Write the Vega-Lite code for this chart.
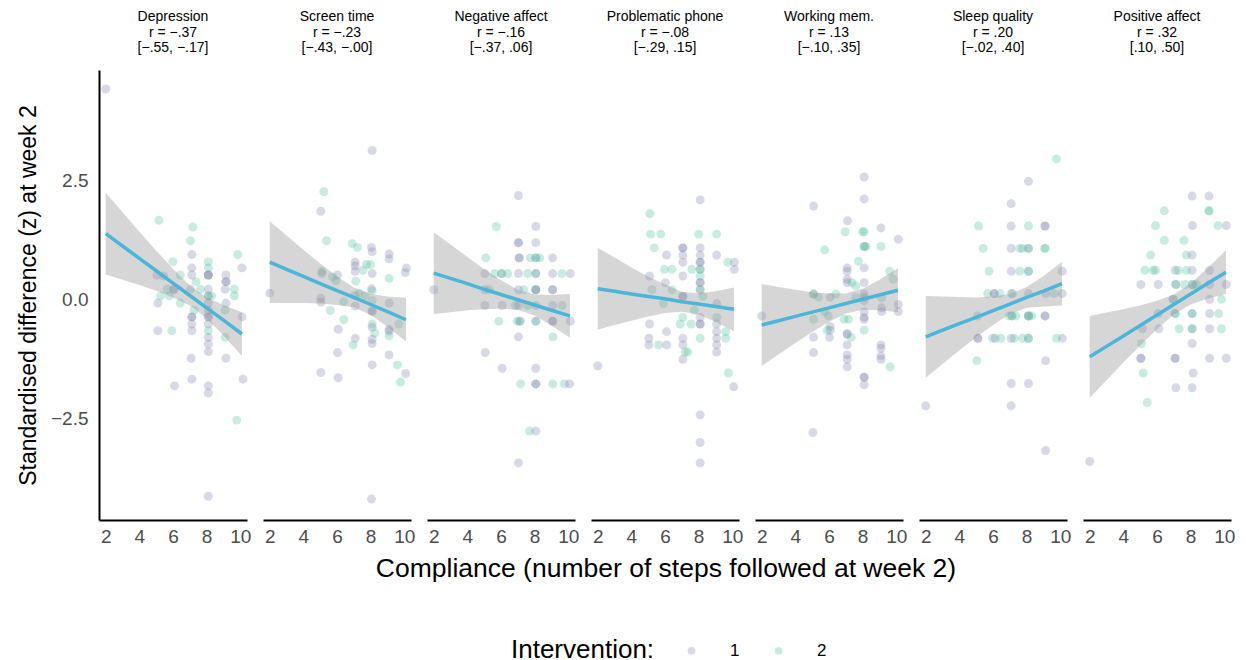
{
"$schema": "https://vega.github.io/schema/vega-lite/v6.json",
"background": "white",
"padding": {"left": 17, "top": 10, "right": 2, "bottom": 5},
"bounds": "flush",
"data": {"values": [
{"o":"Depression","x":2.0,"y":4.43,"g":"1"},{"o":"Depression","x":5.16,"y":1.67,"g":"2"},{"o":"Depression","x":7.18,"y":1.53,"g":"2"},{"o":"Depression","x":7.04,"y":1.24,"g":"2"},{"o":"Depression","x":7.12,"y":0.95,"g":"1"},{"o":"Depression","x":9.85,"y":0.95,"g":"2"},{"o":"Depression","x":5.99,"y":0.8,"g":"2"},{"o":"Depression","x":8.1,"y":0.8,"g":"2"},{"o":"Depression","x":7.12,"y":0.67,"g":"1"},{"o":"Depression","x":8.1,"y":0.67,"g":"2"},{"o":"Depression","x":10.1,"y":0.67,"g":"1"},{"o":"Depression","x":5.04,"y":0.52,"g":"1"},{"o":"Depression","x":5.45,"y":0.5,"g":"1"},{"o":"Depression","x":6.43,"y":0.52,"g":"2"},{"o":"Depression","x":8.1,"y":0.52,"g":"1"},{"o":"Depression","x":8.1,"y":0.52,"g":"1"},{"o":"Depression","x":8.1,"y":0.52,"g":"1"},{"o":"Depression","x":9.15,"y":0.52,"g":"1"},{"o":"Depression","x":7.12,"y":0.52,"g":"1"},{"o":"Depression","x":7.37,"y":0.38,"g":"2"},{"o":"Depression","x":9.15,"y":0.38,"g":"1"},{"o":"Depression","x":9.15,"y":0.38,"g":"1"},{"o":"Depression","x":8.1,"y":0.22,"g":"1"},{"o":"Depression","x":6.05,"y":0.22,"g":"1"},{"o":"Depression","x":6.05,"y":0.22,"g":"1"},{"o":"Depression","x":5.66,"y":0.22,"g":"2"},{"o":"Depression","x":7.04,"y":0.22,"g":"1"},{"o":"Depression","x":7.63,"y":0.22,"g":"2"},{"o":"Depression","x":9.65,"y":0.22,"g":"2"},{"o":"Depression","x":9.1,"y":0.22,"g":"1"},{"o":"Depression","x":5.26,"y":0.08,"g":"2"},{"o":"Depression","x":5.79,"y":0.08,"g":"2"},{"o":"Depression","x":8.1,"y":0.08,"g":"1"},{"o":"Depression","x":8.1,"y":0.08,"g":"2"},{"o":"Depression","x":8.3,"y":0.08,"g":"2"},{"o":"Depression","x":9.65,"y":0.08,"g":"2"},{"o":"Depression","x":5.1,"y":-0.07,"g":"1"},{"o":"Depression","x":6.43,"y":-0.07,"g":"2"},{"o":"Depression","x":8.1,"y":-0.07,"g":"1"},{"o":"Depression","x":9.15,"y":-0.07,"g":"1"},{"o":"Depression","x":7.25,"y":-0.22,"g":"2"},{"o":"Depression","x":8.1,"y":-0.22,"g":"1"},{"o":"Depression","x":9.1,"y":-0.22,"g":"2"},{"o":"Depression","x":7.12,"y":-0.36,"g":"1"},{"o":"Depression","x":7.12,"y":-0.36,"g":"1"},{"o":"Depression","x":8.1,"y":-0.36,"g":"1"},{"o":"Depression","x":8.1,"y":-0.36,"g":"1"},{"o":"Depression","x":10.1,"y":-0.36,"g":"1"},{"o":"Depression","x":7.12,"y":-0.51,"g":"1"},{"o":"Depression","x":8.1,"y":-0.51,"g":"1"},{"o":"Depression","x":5.1,"y":-0.65,"g":"1"},{"o":"Depression","x":5.93,"y":-0.65,"g":"2"},{"o":"Depression","x":7.12,"y":-0.65,"g":"1"},{"o":"Depression","x":8.1,"y":-0.65,"g":"2"},{"o":"Depression","x":8.1,"y":-0.79,"g":"1"},{"o":"Depression","x":9.1,"y":-0.79,"g":"2"},{"o":"Depression","x":8.1,"y":-0.93,"g":"1"},{"o":"Depression","x":8.1,"y":-1.09,"g":"1"},{"o":"Depression","x":7.08,"y":-1.23,"g":"1"},{"o":"Depression","x":9.15,"y":-1.23,"g":"1"},{"o":"Depression","x":7.12,"y":-1.67,"g":"1"},{"o":"Depression","x":10.16,"y":-1.67,"g":"1"},{"o":"Depression","x":6.09,"y":-1.81,"g":"1"},{"o":"Depression","x":8.1,"y":-1.81,"g":"1"},{"o":"Depression","x":8.1,"y":-1.96,"g":"1"},{"o":"Depression","x":9.79,"y":-2.53,"g":"2"},{"o":"Depression","x":8.1,"y":-4.13,"g":"1"},

{"o":"Screen time","x":2.0,"y":0.14,"g":"1"},{"o":"Screen time","x":8.09,"y":3.14,"g":"1"},{"o":"Screen time","x":5.22,"y":2.27,"g":"2"},{"o":"Screen time","x":5.04,"y":1.86,"g":"1"},{"o":"Screen time","x":5.38,"y":1.24,"g":"2"},{"o":"Screen time","x":6.9,"y":1.18,"g":"2"},{"o":"Screen time","x":7.22,"y":1.1,"g":"2"},{"o":"Screen time","x":8.05,"y":1.1,"g":"1"},{"o":"Screen time","x":8.09,"y":1.01,"g":"1"},{"o":"Screen time","x":9.1,"y":0.96,"g":"1"},{"o":"Screen time","x":9.1,"y":0.86,"g":"1"},{"o":"Screen time","x":7.08,"y":0.79,"g":"1"},{"o":"Screen time","x":7.08,"y":0.71,"g":"1"},{"o":"Screen time","x":7.75,"y":0.74,"g":"2"},{"o":"Screen time","x":7.99,"y":0.74,"g":"2"},{"o":"Screen time","x":7.08,"y":0.6,"g":"1"},{"o":"Screen time","x":7.55,"y":0.62,"g":"2"},{"o":"Screen time","x":10.12,"y":0.67,"g":"1"},{"o":"Screen time","x":10.06,"y":0.57,"g":"1"},{"o":"Screen time","x":8.09,"y":0.55,"g":"1"},{"o":"Screen time","x":5.1,"y":0.6,"g":"2"},{"o":"Screen time","x":5.1,"y":0.55,"g":"1"},{"o":"Screen time","x":6.03,"y":0.52,"g":"1"},{"o":"Screen time","x":5.74,"y":0.48,"g":"2"},{"o":"Screen time","x":5.93,"y":0.4,"g":"2"},{"o":"Screen time","x":9.1,"y":0.45,"g":"2"},{"o":"Screen time","x":7.12,"y":0.39,"g":"2"},{"o":"Screen time","x":8.05,"y":0.23,"g":"1"},{"o":"Screen time","x":8.09,"y":0.19,"g":"2"},{"o":"Screen time","x":7.08,"y":0.09,"g":"1"},{"o":"Screen time","x":7.32,"y":0.14,"g":"2"},{"o":"Screen time","x":7.67,"y":0.08,"g":"2"},{"o":"Screen time","x":5.04,"y":0.03,"g":"1"},{"o":"Screen time","x":5.04,"y":-0.05,"g":"1"},{"o":"Screen time","x":6.4,"y":-0.04,"g":"2"},{"o":"Screen time","x":8.09,"y":-0.02,"g":"2"},{"o":"Screen time","x":9.1,"y":-0.07,"g":"1"},{"o":"Screen time","x":7.08,"y":-0.13,"g":"1"},{"o":"Screen time","x":5.6,"y":-0.22,"g":"2"},{"o":"Screen time","x":8.09,"y":-0.23,"g":"1"},{"o":"Screen time","x":8.09,"y":-0.25,"g":"1"},{"o":"Screen time","x":6.4,"y":-0.42,"g":"2"},{"o":"Screen time","x":6.07,"y":-0.62,"g":"1"},{"o":"Screen time","x":8.09,"y":-0.51,"g":"2"},{"o":"Screen time","x":8.09,"y":-0.58,"g":"1"},{"o":"Screen time","x":8.25,"y":-0.7,"g":"2"},{"o":"Screen time","x":9.1,"y":-0.62,"g":"1"},{"o":"Screen time","x":9.1,"y":-0.66,"g":"1"},{"o":"Screen time","x":9.1,"y":-0.76,"g":"2"},{"o":"Screen time","x":9.67,"y":-0.51,"g":"2"},{"o":"Screen time","x":7.08,"y":-0.81,"g":"1"},{"o":"Screen time","x":6.96,"y":-0.95,"g":"2"},{"o":"Screen time","x":8.09,"y":-0.83,"g":"1"},{"o":"Screen time","x":8.09,"y":-0.92,"g":"1"},{"o":"Screen time","x":6.03,"y":-1.11,"g":"1"},{"o":"Screen time","x":9.1,"y":-1.16,"g":"1"},{"o":"Screen time","x":8.09,"y":-1.37,"g":"1"},{"o":"Screen time","x":9.59,"y":-1.37,"g":"2"},{"o":"Screen time","x":5.04,"y":-1.53,"g":"1"},{"o":"Screen time","x":6.07,"y":-1.64,"g":"1"},{"o":"Screen time","x":10.08,"y":-1.55,"g":"1"},{"o":"Screen time","x":9.77,"y":-1.73,"g":"2"},{"o":"Screen time","x":8.05,"y":-4.19,"g":"1"},

{"o":"Negative affect","x":2.0,"y":0.21,"g":"1"},{"o":"Negative affect","x":7.04,"y":2.19,"g":"1"},{"o":"Negative affect","x":5.72,"y":1.54,"g":"2"},{"o":"Negative affect","x":8.07,"y":1.54,"g":"1"},{"o":"Negative affect","x":7.04,"y":1.2,"g":"1"},{"o":"Negative affect","x":7.04,"y":1.2,"g":"1"},{"o":"Negative affect","x":8.07,"y":1.2,"g":"1"},{"o":"Negative affect","x":5.1,"y":0.88,"g":"2"},{"o":"Negative affect","x":7.08,"y":0.88,"g":"1"},{"o":"Negative affect","x":7.08,"y":0.88,"g":"1"},{"o":"Negative affect","x":7.75,"y":0.88,"g":"2"},{"o":"Negative affect","x":8.07,"y":0.88,"g":"1"},{"o":"Negative affect","x":8.07,"y":0.88,"g":"2"},{"o":"Negative affect","x":8.3,"y":0.88,"g":"2"},{"o":"Negative affect","x":9.07,"y":0.88,"g":"1"},{"o":"Negative affect","x":5.04,"y":0.55,"g":"1"},{"o":"Negative affect","x":5.62,"y":0.55,"g":"2"},{"o":"Negative affect","x":6.03,"y":0.55,"g":"1"},{"o":"Negative affect","x":6.03,"y":0.55,"g":"2"},{"o":"Negative affect","x":6.4,"y":0.55,"g":"2"},{"o":"Negative affect","x":7.04,"y":0.55,"g":"1"},{"o":"Negative affect","x":7.59,"y":0.55,"g":"2"},{"o":"Negative affect","x":8.07,"y":0.55,"g":"2"},{"o":"Negative affect","x":8.07,"y":0.55,"g":"1"},{"o":"Negative affect","x":9.07,"y":0.55,"g":"1"},{"o":"Negative affect","x":9.63,"y":0.55,"g":"2"},{"o":"Negative affect","x":10.12,"y":0.55,"g":"1"},{"o":"Negative affect","x":5.04,"y":0.21,"g":"1"},{"o":"Negative affect","x":5.3,"y":0.21,"g":"2"},{"o":"Negative affect","x":7.04,"y":0.21,"g":"1"},{"o":"Negative affect","x":7.36,"y":0.21,"g":"2"},{"o":"Negative affect","x":8.07,"y":0.21,"g":"1"},{"o":"Negative affect","x":8.07,"y":0.21,"g":"2"},{"o":"Negative affect","x":8.07,"y":0.21,"g":"1"},{"o":"Negative affect","x":9.07,"y":0.21,"g":"1"},{"o":"Negative affect","x":9.07,"y":0.21,"g":"1"},{"o":"Negative affect","x":5.04,"y":-0.12,"g":"1"},{"o":"Negative affect","x":6.07,"y":-0.12,"g":"1"},{"o":"Negative affect","x":6.86,"y":-0.12,"g":"2"},{"o":"Negative affect","x":7.04,"y":-0.12,"g":"1"},{"o":"Negative affect","x":7.59,"y":-0.12,"g":"2"},{"o":"Negative affect","x":8.07,"y":-0.12,"g":"1"},{"o":"Negative affect","x":9.07,"y":-0.12,"g":"1"},{"o":"Negative affect","x":9.63,"y":-0.12,"g":"2"},{"o":"Negative affect","x":5.87,"y":-0.45,"g":"2"},{"o":"Negative affect","x":6.96,"y":-0.45,"g":"2"},{"o":"Negative affect","x":7.16,"y":-0.45,"g":"2"},{"o":"Negative affect","x":7.1,"y":-0.45,"g":"1"},{"o":"Negative affect","x":8.07,"y":-0.45,"g":"1"},{"o":"Negative affect","x":8.07,"y":-0.45,"g":"2"},{"o":"Negative affect","x":9.07,"y":-0.45,"g":"1"},{"o":"Negative affect","x":9.07,"y":-0.45,"g":"1"},{"o":"Negative affect","x":10.12,"y":-0.45,"g":"1"},{"o":"Negative affect","x":7.04,"y":-0.78,"g":"1"},{"o":"Negative affect","x":9.09,"y":-0.78,"g":"2"},{"o":"Negative affect","x":5.06,"y":-1.11,"g":"1"},{"o":"Negative affect","x":6.07,"y":-1.44,"g":"1"},{"o":"Negative affect","x":8.07,"y":-1.44,"g":"1"},{"o":"Negative affect","x":7.16,"y":-1.77,"g":"2"},{"o":"Negative affect","x":8.07,"y":-1.77,"g":"1"},{"o":"Negative affect","x":8.07,"y":-1.77,"g":"1"},{"o":"Negative affect","x":9.07,"y":-1.77,"g":"2"},{"o":"Negative affect","x":9.77,"y":-1.77,"g":"2"},{"o":"Negative affect","x":10.08,"y":-1.77,"g":"1"},{"o":"Negative affect","x":7.69,"y":-2.76,"g":"2"},{"o":"Negative affect","x":8.07,"y":-2.76,"g":"1"},{"o":"Negative affect","x":7.04,"y":-3.43,"g":"1"},

{"o":"Problematic phone","x":2.0,"y":-1.39,"g":"1"},{"o":"Problematic phone","x":8.09,"y":2.1,"g":"1"},{"o":"Problematic phone","x":5.1,"y":1.81,"g":"2"},{"o":"Problematic phone","x":5.14,"y":1.38,"g":"2"},{"o":"Problematic phone","x":5.75,"y":1.38,"g":"2"},{"o":"Problematic phone","x":8.0,"y":1.38,"g":"2"},{"o":"Problematic phone","x":9.07,"y":1.38,"g":"2"},{"o":"Problematic phone","x":5.36,"y":1.09,"g":"2"},{"o":"Problematic phone","x":7.06,"y":1.09,"g":"1"},{"o":"Problematic phone","x":7.06,"y":1.09,"g":"1"},{"o":"Problematic phone","x":8.09,"y":1.09,"g":"1"},{"o":"Problematic phone","x":6.09,"y":0.94,"g":"1"},{"o":"Problematic phone","x":7.06,"y":0.94,"g":"1"},{"o":"Problematic phone","x":8.09,"y":0.94,"g":"1"},{"o":"Problematic phone","x":9.07,"y":0.94,"g":"1"},{"o":"Problematic phone","x":7.06,"y":0.79,"g":"1"},{"o":"Problematic phone","x":8.09,"y":0.79,"g":"1"},{"o":"Problematic phone","x":8.09,"y":0.79,"g":"1"},{"o":"Problematic phone","x":9.73,"y":0.79,"g":"2"},{"o":"Problematic phone","x":10.12,"y":0.79,"g":"1"},{"o":"Problematic phone","x":5.97,"y":0.64,"g":"2"},{"o":"Problematic phone","x":6.41,"y":0.64,"g":"2"},{"o":"Problematic phone","x":7.59,"y":0.64,"g":"2"},{"o":"Problematic phone","x":8.09,"y":0.64,"g":"1"},{"o":"Problematic phone","x":8.09,"y":0.64,"g":"2"},{"o":"Problematic phone","x":10.12,"y":0.64,"g":"1"},{"o":"Problematic phone","x":5.08,"y":0.5,"g":"1"},{"o":"Problematic phone","x":7.06,"y":0.5,"g":"1"},{"o":"Problematic phone","x":8.09,"y":0.5,"g":"2"},{"o":"Problematic phone","x":6.03,"y":0.36,"g":"1"},{"o":"Problematic phone","x":8.09,"y":0.36,"g":"1"},{"o":"Problematic phone","x":8.09,"y":0.36,"g":"1"},{"o":"Problematic phone","x":5.22,"y":0.21,"g":"2"},{"o":"Problematic phone","x":6.41,"y":0.21,"g":"2"},{"o":"Problematic phone","x":8.09,"y":0.21,"g":"1"},{"o":"Problematic phone","x":8.09,"y":0.21,"g":"2"},{"o":"Problematic phone","x":7.06,"y":0.07,"g":"1"},{"o":"Problematic phone","x":7.06,"y":0.07,"g":"1"},{"o":"Problematic phone","x":8.25,"y":0.07,"g":"2"},{"o":"Problematic phone","x":5.9,"y":-0.08,"g":"2"},{"o":"Problematic phone","x":9.07,"y":-0.08,"g":"1"},{"o":"Problematic phone","x":7.75,"y":-0.22,"g":"2"},{"o":"Problematic phone","x":7.06,"y":-0.37,"g":"2"},{"o":"Problematic phone","x":8.09,"y":-0.37,"g":"1"},{"o":"Problematic phone","x":9.07,"y":-0.37,"g":"2"},{"o":"Problematic phone","x":5.08,"y":-0.51,"g":"1"},{"o":"Problematic phone","x":6.9,"y":-0.51,"g":"2"},{"o":"Problematic phone","x":7.55,"y":-0.51,"g":"2"},{"o":"Problematic phone","x":8.09,"y":-0.51,"g":"1"},{"o":"Problematic phone","x":8.09,"y":-0.51,"g":"1"},{"o":"Problematic phone","x":9.07,"y":-0.51,"g":"1"},{"o":"Problematic phone","x":6.09,"y":-0.67,"g":"1"},{"o":"Problematic phone","x":9.07,"y":-0.67,"g":"1"},{"o":"Problematic phone","x":9.61,"y":-0.67,"g":"2"},{"o":"Problematic phone","x":5.04,"y":-0.81,"g":"1"},{"o":"Problematic phone","x":7.06,"y":-0.81,"g":"1"},{"o":"Problematic phone","x":8.09,"y":-0.81,"g":"2"},{"o":"Problematic phone","x":9.07,"y":-0.81,"g":"1"},{"o":"Problematic phone","x":9.61,"y":-0.81,"g":"2"},{"o":"Problematic phone","x":5.04,"y":-0.95,"g":"1"},{"o":"Problematic phone","x":5.62,"y":-0.95,"g":"2"},{"o":"Problematic phone","x":6.09,"y":-0.95,"g":"1"},{"o":"Problematic phone","x":7.06,"y":-0.95,"g":"1"},{"o":"Problematic phone","x":9.07,"y":-0.95,"g":"1"},{"o":"Problematic phone","x":7.2,"y":-1.1,"g":"2"},{"o":"Problematic phone","x":7.36,"y":-1.1,"g":"2"},{"o":"Problematic phone","x":9.07,"y":-1.1,"g":"1"},{"o":"Problematic phone","x":7.06,"y":-1.25,"g":"1"},{"o":"Problematic phone","x":9.77,"y":-1.54,"g":"2"},{"o":"Problematic phone","x":10.08,"y":-1.83,"g":"1"},{"o":"Problematic phone","x":8.09,"y":-2.42,"g":"1"},{"o":"Problematic phone","x":8.09,"y":-3.0,"g":"1"},{"o":"Problematic phone","x":8.09,"y":-3.43,"g":"1"},

{"o":"Working mem.","x":2.0,"y":-0.34,"g":"1"},{"o":"Working mem.","x":8.09,"y":2.58,"g":"1"},{"o":"Working mem.","x":8.09,"y":2.12,"g":"1"},{"o":"Working mem.","x":5.08,"y":1.97,"g":"1"},{"o":"Working mem.","x":7.1,"y":1.66,"g":"1"},{"o":"Working mem.","x":9.09,"y":1.51,"g":"1"},{"o":"Working mem.","x":6.96,"y":1.43,"g":"2"},{"o":"Working mem.","x":8.0,"y":1.43,"g":"2"},{"o":"Working mem.","x":8.09,"y":1.43,"g":"2"},{"o":"Working mem.","x":10.12,"y":1.27,"g":"1"},{"o":"Working mem.","x":5.74,"y":1.05,"g":"2"},{"o":"Working mem.","x":8.09,"y":1.12,"g":"1"},{"o":"Working mem.","x":8.09,"y":1.12,"g":"2"},{"o":"Working mem.","x":8.2,"y":1.12,"g":"2"},{"o":"Working mem.","x":9.09,"y":1.12,"g":"2"},{"o":"Working mem.","x":7.75,"y":0.81,"g":"2"},{"o":"Working mem.","x":7.08,"y":0.67,"g":"1"},{"o":"Working mem.","x":8.09,"y":0.67,"g":"1"},{"o":"Working mem.","x":7.08,"y":0.6,"g":"1"},{"o":"Working mem.","x":9.61,"y":0.6,"g":"2"},{"o":"Working mem.","x":7.08,"y":0.43,"g":"1"},{"o":"Working mem.","x":7.08,"y":0.36,"g":"1"},{"o":"Working mem.","x":7.36,"y":0.36,"g":"2"},{"o":"Working mem.","x":8.09,"y":0.36,"g":"1"},{"o":"Working mem.","x":9.81,"y":0.43,"g":"2"},{"o":"Working mem.","x":7.59,"y":0.29,"g":"2"},{"o":"Working mem.","x":5.08,"y":0.12,"g":"1"},{"o":"Working mem.","x":5.08,"y":0.12,"g":"2"},{"o":"Working mem.","x":5.38,"y":0.05,"g":"2"},{"o":"Working mem.","x":6.07,"y":0.05,"g":"1"},{"o":"Working mem.","x":6.41,"y":0.12,"g":"2"},{"o":"Working mem.","x":8.09,"y":0.12,"g":"1"},{"o":"Working mem.","x":8.09,"y":0.05,"g":"1"},{"o":"Working mem.","x":7.59,"y":0.05,"g":"2"},{"o":"Working mem.","x":9.13,"y":0.04,"g":"2"},{"o":"Working mem.","x":8.09,"y":-0.02,"g":"1"},{"o":"Working mem.","x":10.12,"y":-0.1,"g":"1"},{"o":"Working mem.","x":9.13,"y":-0.17,"g":"1"},{"o":"Working mem.","x":9.13,"y":-0.25,"g":"1"},{"o":"Working mem.","x":10.12,"y":-0.25,"g":"1"},{"o":"Working mem.","x":5.74,"y":-0.25,"g":"2"},{"o":"Working mem.","x":5.97,"y":-0.34,"g":"2"},{"o":"Working mem.","x":8.09,"y":-0.25,"g":"1"},{"o":"Working mem.","x":8.09,"y":-0.37,"g":"1"},{"o":"Working mem.","x":5.08,"y":-0.41,"g":"2"},{"o":"Working mem.","x":6.9,"y":-0.41,"g":"2"},{"o":"Working mem.","x":7.16,"y":-0.41,"g":"2"},{"o":"Working mem.","x":8.09,"y":-0.41,"g":"1"},{"o":"Working mem.","x":6.07,"y":-0.56,"g":"1"},{"o":"Working mem.","x":6.07,"y":-0.64,"g":"1"},{"o":"Working mem.","x":6.03,"y":-0.79,"g":"1"},{"o":"Working mem.","x":5.9,"y":-0.64,"g":"2"},{"o":"Working mem.","x":7.08,"y":-0.72,"g":"1"},{"o":"Working mem.","x":7.08,"y":-0.72,"g":"1"},{"o":"Working mem.","x":7.32,"y":-0.79,"g":"2"},{"o":"Working mem.","x":8.09,"y":-0.64,"g":"2"},{"o":"Working mem.","x":5.08,"y":-0.79,"g":"1"},{"o":"Working mem.","x":5.08,"y":-1.11,"g":"1"},{"o":"Working mem.","x":7.08,"y":-0.95,"g":"1"},{"o":"Working mem.","x":7.08,"y":-1.16,"g":"1"},{"o":"Working mem.","x":7.08,"y":-1.25,"g":"1"},{"o":"Working mem.","x":7.08,"y":-1.41,"g":"1"},{"o":"Working mem.","x":9.09,"y":-0.95,"g":"1"},{"o":"Working mem.","x":9.09,"y":-1.02,"g":"1"},{"o":"Working mem.","x":9.09,"y":-1.18,"g":"1"},{"o":"Working mem.","x":9.09,"y":-1.25,"g":"1"},{"o":"Working mem.","x":9.63,"y":-1.41,"g":"2"},{"o":"Working mem.","x":8.09,"y":-1.63,"g":"1"},{"o":"Working mem.","x":8.09,"y":-1.63,"g":"1"},{"o":"Working mem.","x":8.09,"y":-1.79,"g":"1"},{"o":"Working mem.","x":5.04,"y":-2.79,"g":"1"},

{"o":"Sleep quality","x":2.0,"y":-2.23,"g":"1"},{"o":"Sleep quality","x":9.77,"y":2.96,"g":"2"},{"o":"Sleep quality","x":8.11,"y":2.49,"g":"1"},{"o":"Sleep quality","x":7.08,"y":2.02,"g":"1"},{"o":"Sleep quality","x":5.14,"y":1.55,"g":"2"},{"o":"Sleep quality","x":7.08,"y":1.55,"g":"1"},{"o":"Sleep quality","x":8.11,"y":1.55,"g":"2"},{"o":"Sleep quality","x":9.09,"y":1.55,"g":"1"},{"o":"Sleep quality","x":9.09,"y":1.55,"g":"1"},{"o":"Sleep quality","x":5.42,"y":1.08,"g":"2"},{"o":"Sleep quality","x":7.08,"y":1.08,"g":"1"},{"o":"Sleep quality","x":7.59,"y":1.08,"g":"2"},{"o":"Sleep quality","x":7.75,"y":1.08,"g":"2"},{"o":"Sleep quality","x":8.11,"y":1.08,"g":"1"},{"o":"Sleep quality","x":8.11,"y":1.08,"g":"2"},{"o":"Sleep quality","x":9.09,"y":1.08,"g":"2"},{"o":"Sleep quality","x":9.09,"y":1.08,"g":"2"},{"o":"Sleep quality","x":5.77,"y":0.6,"g":"2"},{"o":"Sleep quality","x":7.08,"y":0.6,"g":"1"},{"o":"Sleep quality","x":7.59,"y":0.6,"g":"2"},{"o":"Sleep quality","x":8.11,"y":0.6,"g":"1"},{"o":"Sleep quality","x":8.11,"y":0.6,"g":"2"},{"o":"Sleep quality","x":10.12,"y":0.6,"g":"1"},{"o":"Sleep quality","x":5.68,"y":0.13,"g":"2"},{"o":"Sleep quality","x":6.07,"y":0.13,"g":"1"},{"o":"Sleep quality","x":6.07,"y":0.13,"g":"1"},{"o":"Sleep quality","x":6.41,"y":0.13,"g":"2"},{"o":"Sleep quality","x":7.08,"y":0.13,"g":"2"},{"o":"Sleep quality","x":7.16,"y":0.13,"g":"1"},{"o":"Sleep quality","x":8.11,"y":0.13,"g":"1"},{"o":"Sleep quality","x":9.13,"y":0.13,"g":"1"},{"o":"Sleep quality","x":9.63,"y":0.13,"g":"2"},{"o":"Sleep quality","x":10.12,"y":0.13,"g":"1"},{"o":"Sleep quality","x":5.08,"y":-0.34,"g":"1"},{"o":"Sleep quality","x":6.96,"y":-0.34,"g":"2"},{"o":"Sleep quality","x":7.12,"y":-0.34,"g":"1"},{"o":"Sleep quality","x":7.12,"y":-0.34,"g":"2"},{"o":"Sleep quality","x":7.36,"y":-0.34,"g":"2"},{"o":"Sleep quality","x":8.11,"y":-0.34,"g":"1"},{"o":"Sleep quality","x":8.11,"y":-0.34,"g":"1"},{"o":"Sleep quality","x":8.11,"y":-0.34,"g":"2"},{"o":"Sleep quality","x":8.3,"y":-0.34,"g":"2"},{"o":"Sleep quality","x":9.09,"y":-0.34,"g":"1"},{"o":"Sleep quality","x":9.09,"y":-0.34,"g":"1"},{"o":"Sleep quality","x":5.1,"y":-0.81,"g":"1"},{"o":"Sleep quality","x":5.1,"y":-0.81,"g":"1"},{"o":"Sleep quality","x":5.97,"y":-0.81,"g":"2"},{"o":"Sleep quality","x":6.13,"y":-0.81,"g":"1"},{"o":"Sleep quality","x":6.47,"y":-0.81,"g":"2"},{"o":"Sleep quality","x":7.08,"y":-0.81,"g":"1"},{"o":"Sleep quality","x":7.26,"y":-0.81,"g":"2"},{"o":"Sleep quality","x":7.75,"y":-0.81,"g":"2"},{"o":"Sleep quality","x":8.11,"y":-0.81,"g":"1"},{"o":"Sleep quality","x":8.11,"y":-0.81,"g":"2"},{"o":"Sleep quality","x":9.77,"y":-0.81,"g":"2"},{"o":"Sleep quality","x":10.12,"y":-0.81,"g":"1"},{"o":"Sleep quality","x":5.04,"y":-1.28,"g":"2"},{"o":"Sleep quality","x":9.13,"y":-1.28,"g":"1"},{"o":"Sleep quality","x":7.08,"y":-1.76,"g":"1"},{"o":"Sleep quality","x":8.11,"y":-1.76,"g":"1"},{"o":"Sleep quality","x":7.08,"y":-2.23,"g":"1"},{"o":"Sleep quality","x":9.13,"y":-3.17,"g":"1"},

{"o":"Positive affect","x":2.0,"y":-3.4,"g":"1"},{"o":"Positive affect","x":8.09,"y":2.18,"g":"1"},{"o":"Positive affect","x":9.09,"y":2.18,"g":"1"},{"o":"Positive affect","x":6.43,"y":1.87,"g":"2"},{"o":"Positive affect","x":9.09,"y":1.87,"g":"2"},{"o":"Positive affect","x":9.09,"y":1.87,"g":"2"},{"o":"Positive affect","x":5.91,"y":1.56,"g":"2"},{"o":"Positive affect","x":8.11,"y":1.56,"g":"1"},{"o":"Positive affect","x":9.63,"y":1.56,"g":"2"},{"o":"Positive affect","x":10.12,"y":1.56,"g":"1"},{"o":"Positive affect","x":6.43,"y":1.25,"g":"2"},{"o":"Positive affect","x":7.61,"y":1.25,"g":"2"},{"o":"Positive affect","x":5.62,"y":0.94,"g":"2"},{"o":"Positive affect","x":7.75,"y":0.94,"g":"2"},{"o":"Positive affect","x":8.09,"y":0.94,"g":"1"},{"o":"Positive affect","x":5.28,"y":0.62,"g":"2"},{"o":"Positive affect","x":5.77,"y":0.62,"g":"2"},{"o":"Positive affect","x":5.91,"y":0.62,"g":"2"},{"o":"Positive affect","x":7.08,"y":0.62,"g":"1"},{"o":"Positive affect","x":7.26,"y":0.62,"g":"2"},{"o":"Positive affect","x":7.75,"y":0.62,"g":"2"},{"o":"Positive affect","x":8.09,"y":0.62,"g":"1"},{"o":"Positive affect","x":9.13,"y":0.62,"g":"1"},{"o":"Positive affect","x":5.04,"y":0.32,"g":"1"},{"o":"Positive affect","x":6.07,"y":0.32,"g":"1"},{"o":"Positive affect","x":7.12,"y":0.32,"g":"1"},{"o":"Positive affect","x":7.12,"y":0.32,"g":"2"},{"o":"Positive affect","x":7.65,"y":0.32,"g":"2"},{"o":"Positive affect","x":8.11,"y":0.32,"g":"1"},{"o":"Positive affect","x":8.11,"y":0.32,"g":"2"},{"o":"Positive affect","x":8.35,"y":0.32,"g":"2"},{"o":"Positive affect","x":9.13,"y":0.32,"g":"1"},{"o":"Positive affect","x":10.12,"y":0.32,"g":"1"},{"o":"Positive affect","x":6.96,"y":0.01,"g":"2"},{"o":"Positive affect","x":6.96,"y":0.01,"g":"1"},{"o":"Positive affect","x":9.13,"y":0.01,"g":"1"},{"o":"Positive affect","x":9.83,"y":0.01,"g":"2"},{"o":"Positive affect","x":6.07,"y":-0.29,"g":"1"},{"o":"Positive affect","x":7.08,"y":-0.29,"g":"1"},{"o":"Positive affect","x":7.08,"y":-0.29,"g":"2"},{"o":"Positive affect","x":8.09,"y":-0.29,"g":"1"},{"o":"Positive affect","x":8.09,"y":-0.29,"g":"2"},{"o":"Positive affect","x":9.13,"y":-0.29,"g":"1"},{"o":"Positive affect","x":9.67,"y":-0.29,"g":"2"},{"o":"Positive affect","x":5.14,"y":-0.61,"g":"1"},{"o":"Positive affect","x":6.11,"y":-0.61,"g":"1"},{"o":"Positive affect","x":7.32,"y":-0.61,"g":"2"},{"o":"Positive affect","x":8.09,"y":-0.61,"g":"1"},{"o":"Positive affect","x":8.09,"y":-0.61,"g":"2"},{"o":"Positive affect","x":9.13,"y":-0.61,"g":"1"},{"o":"Positive affect","x":9.83,"y":-0.61,"g":"2"},{"o":"Positive affect","x":5.08,"y":-0.92,"g":"2"},{"o":"Positive affect","x":8.09,"y":-0.92,"g":"1"},{"o":"Positive affect","x":5.04,"y":-1.23,"g":"1"},{"o":"Positive affect","x":5.04,"y":-1.23,"g":"1"},{"o":"Positive affect","x":7.08,"y":-1.23,"g":"1"},{"o":"Positive affect","x":7.08,"y":-1.23,"g":"1"},{"o":"Positive affect","x":9.13,"y":-1.23,"g":"1"},{"o":"Positive affect","x":10.12,"y":-1.23,"g":"1"},{"o":"Positive affect","x":5.18,"y":-1.54,"g":"2"},{"o":"Positive affect","x":8.15,"y":-1.54,"g":"1"},{"o":"Positive affect","x":7.12,"y":-1.85,"g":"1"},{"o":"Positive affect","x":8.09,"y":-1.85,"g":"1"},{"o":"Positive affect","x":5.42,"y":-2.16,"g":"2"},

{"o":"Depression","x":2,"f":1.39,"lo":0.53,"hi":2.25},{"o":"Depression","x":3,"f":1.13,"lo":0.42,"hi":1.84},{"o":"Depression","x":4,"f":0.87,"lo":0.31,"hi":1.43},{"o":"Depression","x":5,"f":0.61,"lo":0.19,"hi":1.03},{"o":"Depression","x":6,"f":0.35,"lo":0.05,"hi":0.65},{"o":"Depression","x":7,"f":0.09,"lo":-0.12,"hi":0.3},{"o":"Depression","x":8,"f":-0.17,"lo":-0.39,"hi":0.05},{"o":"Depression","x":9,"f":-0.43,"lo":-0.75,"hi":-0.11},{"o":"Depression","x":10.1,"f":-0.72,"lo":-1.18,"hi":-0.26},
{"o":"Screen time","x":2,"f":0.79,"lo":-0.07,"hi":1.65},{"o":"Screen time","x":3,"f":0.64,"lo":-0.07,"hi":1.35},{"o":"Screen time","x":4,"f":0.49,"lo":-0.07,"hi":1.05},{"o":"Screen time","x":5,"f":0.34,"lo":-0.08,"hi":0.76},{"o":"Screen time","x":6,"f":0.19,"lo":-0.11,"hi":0.49},{"o":"Screen time","x":7,"f":0.05,"lo":-0.16,"hi":0.26},{"o":"Screen time","x":8,"f":-0.1,"lo":-0.32,"hi":0.12},{"o":"Screen time","x":9,"f":-0.25,"lo":-0.57,"hi":0.07},{"o":"Screen time","x":10.1,"f":-0.42,"lo":-0.88,"hi":0.04},
{"o":"Negative affect","x":2,"f":0.56,"lo":-0.3,"hi":1.42},{"o":"Negative affect","x":3,"f":0.45,"lo":-0.26,"hi":1.16},{"o":"Negative affect","x":4,"f":0.34,"lo":-0.22,"hi":0.9},{"o":"Negative affect","x":5,"f":0.22,"lo":-0.2,"hi":0.64},{"o":"Negative affect","x":6,"f":0.11,"lo":-0.19,"hi":0.41},{"o":"Negative affect","x":7,"f":0.0,"lo":-0.21,"hi":0.21},{"o":"Negative affect","x":8,"f":-0.11,"lo":-0.33,"hi":0.11},{"o":"Negative affect","x":9,"f":-0.22,"lo":-0.54,"hi":0.1},{"o":"Negative affect","x":10.1,"f":-0.34,"lo":-0.8,"hi":0.12},
{"o":"Problematic phone","x":2,"f":0.23,"lo":-0.63,"hi":1.09},{"o":"Problematic phone","x":3,"f":0.18,"lo":-0.53,"hi":0.89},{"o":"Problematic phone","x":4,"f":0.12,"lo":-0.44,"hi":0.68},{"o":"Problematic phone","x":5,"f":0.07,"lo":-0.35,"hi":0.49},{"o":"Problematic phone","x":6,"f":0.02,"lo":-0.28,"hi":0.32},{"o":"Problematic phone","x":7,"f":-0.04,"lo":-0.25,"hi":0.17},{"o":"Problematic phone","x":8,"f":-0.09,"lo":-0.31,"hi":0.13},{"o":"Problematic phone","x":9,"f":-0.14,"lo":-0.46,"hi":0.18},{"o":"Problematic phone","x":10.1,"f":-0.2,"lo":-0.66,"hi":0.26},
{"o":"Working mem.","x":2,"f":-0.53,"lo":-1.39,"hi":0.33},{"o":"Working mem.","x":3,"f":-0.44,"lo":-1.15,"hi":0.27},{"o":"Working mem.","x":4,"f":-0.35,"lo":-0.91,"hi":0.21},{"o":"Working mem.","x":5,"f":-0.26,"lo":-0.68,"hi":0.16},{"o":"Working mem.","x":6,"f":-0.17,"lo":-0.47,"hi":0.13},{"o":"Working mem.","x":7,"f":-0.08,"lo":-0.29,"hi":0.13},{"o":"Working mem.","x":8,"f":0.01,"lo":-0.21,"hi":0.23},{"o":"Working mem.","x":9,"f":0.1,"lo":-0.22,"hi":0.42},{"o":"Working mem.","x":10.1,"f":0.2,"lo":-0.26,"hi":0.66},
{"o":"Sleep quality","x":2,"f":-0.78,"lo":-1.64,"hi":0.08},{"o":"Sleep quality","x":3,"f":-0.64,"lo":-1.35,"hi":0.07},{"o":"Sleep quality","x":4,"f":-0.5,"lo":-1.06,"hi":0.06},{"o":"Sleep quality","x":5,"f":-0.37,"lo":-0.79,"hi":0.05},{"o":"Sleep quality","x":6,"f":-0.23,"lo":-0.53,"hi":0.07},{"o":"Sleep quality","x":7,"f":-0.09,"lo":-0.3,"hi":0.12},{"o":"Sleep quality","x":8,"f":0.05,"lo":-0.17,"hi":0.27},{"o":"Sleep quality","x":9,"f":0.18,"lo":-0.14,"hi":0.5},{"o":"Sleep quality","x":10.1,"f":0.34,"lo":-0.12,"hi":0.8},
{"o":"Positive affect","x":2,"f":-1.2,"lo":-2.06,"hi":-0.34},{"o":"Positive affect","x":3,"f":-0.98,"lo":-1.69,"hi":-0.27},{"o":"Positive affect","x":4,"f":-0.76,"lo":-1.32,"hi":-0.2},{"o":"Positive affect","x":5,"f":-0.54,"lo":-0.96,"hi":-0.12},{"o":"Positive affect","x":6,"f":-0.32,"lo":-0.62,"hi":-0.02},{"o":"Positive affect","x":7,"f":-0.1,"lo":-0.31,"hi":0.11},{"o":"Positive affect","x":8,"f":0.12,"lo":-0.1,"hi":0.34},{"o":"Positive affect","x":9,"f":0.34,"lo":0.02,"hi":0.66},{"o":"Positive affect","x":10.1,"f":0.58,"lo":0.12,"hi":1.04}
]},
"facet": {"column": {"field": "o", "type": "nominal",
  "sort": ["Depression","Screen time","Negative affect","Problematic phone","Working mem.","Sleep quality","Positive affect"],
  "title": "Compliance (number of steps followed at week 2)",
  "header": {"titleOrient": "bottom", "labelOrient": "top", "titleFontSize": 26.5, "titleFontWeight": "normal", "titleColor": "black", "titleFont": "Liberation Sans", "titlePadding": 0,
    "labelFontSize": 14, "labelFont": "Liberation Sans", "labelColor": "black", "labelLineHeight": 15.5, "labelPadding": 15,
    "labelExpr": "[datum.value, {'Depression':'r = −.37','Screen time':'r = −.23','Negative affect':'r = −.16','Problematic phone':'r = −.08','Working mem.':'r = .13','Sleep quality':'r = .20','Positive affect':'r = .32'}[datum.value], {'Depression':'[−.55, −.17]','Screen time':'[−.43, −.00]','Negative affect':'[−.37, .06]','Problematic phone':'[−.29, .15]','Working mem.':'[−.10, .35]','Sleep quality':'[−.02, .40]','Positive affect':'[.10, .50]'}[datum.value]]"}}},
"spacing": 16,
"spec": {
  "width": 148, "height": 450,
  "layer": [
    {"transform": [{"filter": {"field": "g", "valid": true}}],
     "mark": {"type": "circle", "size": 80, "opacity": 0.3},
     "encoding": {
       "x": {"field": "x", "type": "quantitative", "scale": {"domain": [1.6, 10.4], "nice": false, "zero": false},
             "axis": {"values": [2,4,6,8,10], "format": "d", "labelOverlap": false, "title": null}},
       "y": {"field": "y", "type": "quantitative", "scale": {"domain": [-4.63, 4.83], "nice": false, "zero": false},
             "axis": {"values": [-2.5, 0, 2.5], "format": ".1f", "labelPadding": 11}, "title": "Standardised difference (z) at week 2"},
       "color": {"field": "g", "type": "nominal", "scale": {"domain": ["1","2"], "range": ["#7A84AC", "#48C09B"]},
                 "legend": {"title": "Intervention:", "orient": "none", "direction": "horizontal", "titleOrient": "left", "legendX": 412, "legendY": 572,
                            "titleFontSize": 26, "titleFontWeight": "normal", "titleColor": "black", "labelFontSize": 17, "labelColor": "black",
                            "symbolSize": 60, "labelOffset": 30, "columnPadding": 30, "titlePadding": 28}}
     }},
    {"transform": [{"filter": {"field": "f", "valid": true}}],
     "mark": {"type": "area", "color": "#999999", "opacity": 0.4},
     "encoding": {"x": {"field": "x", "type": "quantitative", "axis": {"values": [2,4,6,8,10], "format": "d", "labelOverlap": false, "title": null}}, "y": {"field": "lo", "type": "quantitative"}, "y2": {"field": "hi"}}},
    {"transform": [{"filter": {"field": "f", "valid": true}}],
     "mark": {"type": "line", "color": "#4AB6DA", "strokeWidth": 3.5},
     "encoding": {"x": {"field": "x", "type": "quantitative", "axis": {"values": [2,4,6,8,10], "format": "d", "labelOverlap": false, "title": null}}, "y": {"field": "f", "type": "quantitative"}}}
  ]
},
"config": {
  "font": "Liberation Sans",
  "view": {"stroke": null},
  "axis": {"domainColor": "black", "domainWidth": 2, "ticks": false, "grid": false, "labelColor": "#4D4D4D", "labelFontSize": 19, "labelOverlap": false,
           "titleFontSize": 23, "titleFontWeight": "normal", "titleColor": "black", "labelPadding": 7, "titlePadding": 10},
  "axisX": {"labelOverlap": false, "labelFlush": false}
}
}
